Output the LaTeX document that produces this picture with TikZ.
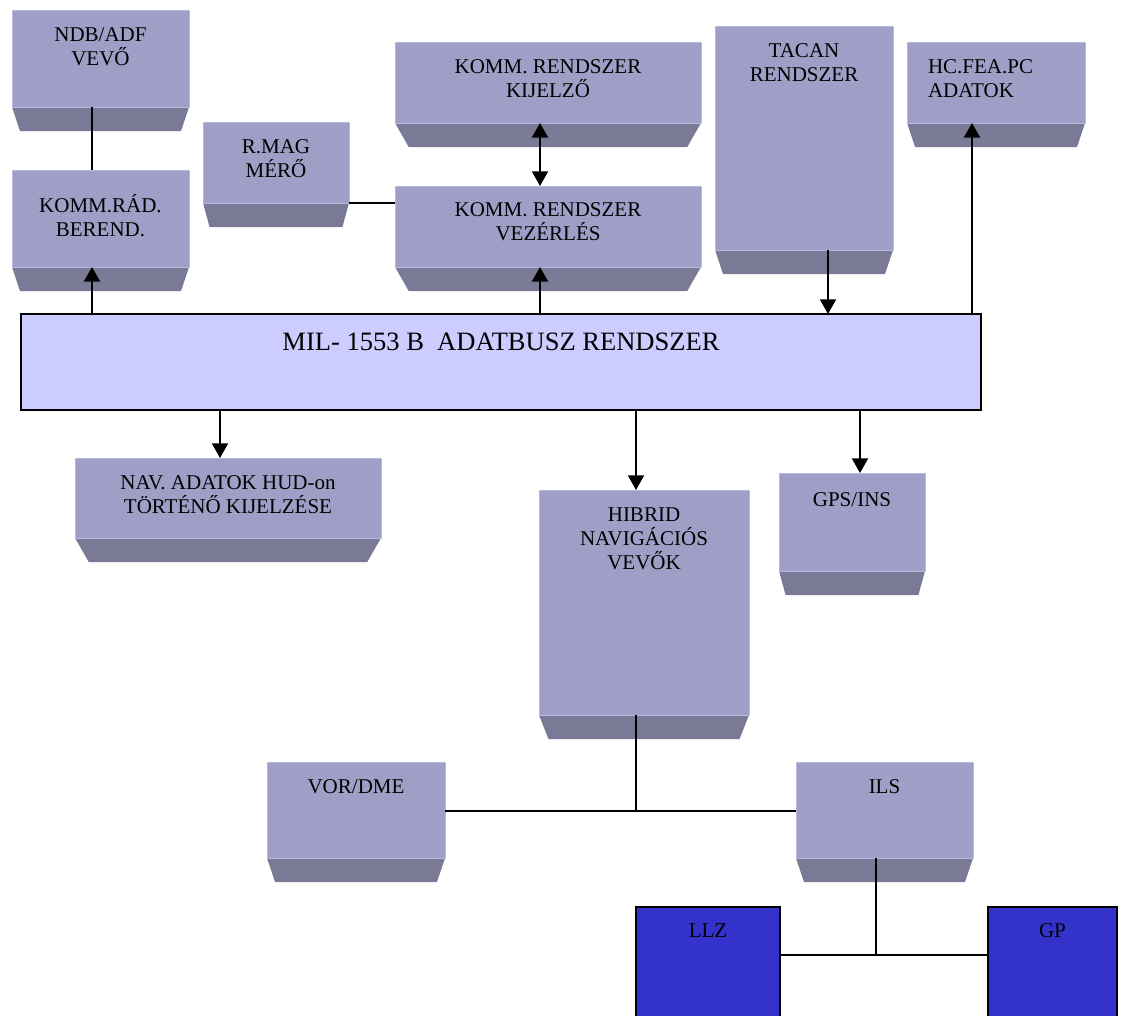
\documentclass[tikz,border=0pt]{standalone}
\usepackage{fontspec}
\setmainfont{Liberation Serif}
\usetikzlibrary{arrows.meta}
\definecolor{facec}{RGB}{158,158,198}
\definecolor{faceedge}{RGB}{184,184,226}
\definecolor{bevelc}{RGB}{122,122,150}
\definecolor{busc}{RGB}{204,204,255}
\definecolor{llzc}{RGB}{51,51,204}
\tikzset{
  face/.style={fill=facec, draw=faceedge, line width=0.75pt, inner sep=0pt, outer sep=0pt,
    anchor=north west, font=\fontsize{15.75pt}{18pt}\selectfont},
  busbox/.style={fill=busc, draw=black, line width=1.5pt, inner sep=0pt, outer sep=0pt,
    anchor=north west, font=\fontsize{19.9pt}{24pt}\selectfont},
  bluebox/.style={fill=llzc, draw=black, line width=1.5pt, inner sep=0pt, outer sep=0pt,
    anchor=north west, font=\fontsize{15.75pt}{18pt}\selectfont},
  conn/.style={line width=1.5pt, draw=black},
  arr/.style={conn, -{Triangle[length=11pt,width=12pt]}},
  darr/.style={conn, {Triangle[length=11pt,width=12pt]}-{Triangle[length=11pt,width=12pt]}}
}
% #1 baseline offset, #2 name, #3 x1, #4 y1, #5 x2, #6 y2, #7 text
\newcommand\pbox[7][31]{%
  \pgfmathsetlengthmacro\bw{(#5-#3)*0.75pt}%
  \pgfmathsetlengthmacro\bh{(#6-#4)*0.75pt}%
  \pgfmathsetlengthmacro\ba{#1*0.75pt}%
  \pgfmathsetmacro\bin{0.045*(#5-#3)}%
  \fill[bevelc] (#3,#6) -- (#5,#6) -- (#5-\bin,#6+24) -- (#3+\bin,#6+24) -- cycle;
  \node[face, minimum width=\bw, minimum height=\bh] (#2) at (#3,#4)
    {\parbox[t][\bh][t]{\bw}{\centering\rule{0pt}{\ba}#7}};
}
\begin{document}
\begin{tikzpicture}[x=0.75pt,y=-0.75pt]
\useasboundingbox (0,0) rectangle (1122,1015);
\clip (0,0) rectangle (1122,1015);

\pbox{ndb}{12}{10}{189}{107}{NDB/ADF\\VEVŐ}
\pbox[42]{krad}{12}{170}{189}{267}{KOMM.RÁD.\\BEREND.}
\pbox{rmag}{203}{122}{349}{203}{R.MAG\\MÉRŐ}
\pbox{kij}{395}{42}{701}{123}{KOMM. RENDSZER\\KIJELZŐ}
\pbox[30]{vez}{395}{186}{701}{267}{KOMM. RENDSZER\\VEZÉRLÉS}
\pbox{tacan}{715}{26}{893}{250}{TACAN\\RENDSZER}
\pbox{hc}{907}{42}{1085}{123}{\raggedright\leftskip=15.75pt HC.FEA.PC\\ADATOK}
\pbox{nav}{75}{458}{381}{538}{NAV. ADATOK HUD-on\\TÖRTÉNŐ KIJELZÉSE}
\pbox{hib}{539}{490}{749}{715}{HIBRID\\NAVIGÁCIÓS\\VEVŐK}
\pbox[33]{gps}{779}{473}{925}{571}{GPS/INS}
\pbox{vor}{267}{762}{445}{858}{VOR/DME}
\pbox{ils}{796}{762}{973}{858}{ILS}

\pgfmathsetlengthmacro\bw{(981-21)*0.75pt}
\pgfmathsetlengthmacro\bh{(410-314)*0.75pt}
\node[busbox, minimum width=\bw, minimum height=\bh] (bus) at (21,314)
  {\parbox[t][\bh][t]{\bw}{\centering\rule{0pt}{27pt}MIL- 1553 B\ \ ADATBUSZ RENDSZER}};

\pgfmathsetlengthmacro\bw{(780-636)*0.75pt}
\pgfmathsetlengthmacro\bh{(1018-907)*0.75pt}
\node[bluebox, minimum width=\bw, minimum height=\bh] (llz) at (636,907)
  {\parbox[t][\bh][t]{\bw}{\centering\rule{0pt}{22.5pt}LLZ}};
\pgfmathsetlengthmacro\bw{(1117-988)*0.75pt}
\node[bluebox, minimum width=\bw, minimum height=\bh] (gp) at (988,907)
  {\parbox[t][\bh][t]{\bw}{\centering\rule{0pt}{22.5pt}GP}};

\coordinate (xa) at (92,0);
\coordinate (xb) at (540,0);
\coordinate (xc) at (828,0);
\coordinate (xd) at (972,0);
\coordinate (xe) at (220,0);
\coordinate (xf) at (636,0);
\coordinate (xg) at (860,0);
\coordinate (xh) at (876,0);
\coordinate (ya) at (0,811);
\coordinate (yb) at (0,955);

\draw[conn] (ndb.south -| xa) -- (krad.north -| xa);
\draw[arr] (bus.north -| xa) -- (krad.south -| xa);
\draw[conn] (rmag.south east) -- (vez.west |- rmag.south east);
\draw[darr] (kij.south -| xb) -- (vez.north -| xb);
\draw[arr] (bus.north -| xb) -- (vez.south -| xb);
\draw[arr] (tacan.south -| xc) -- (bus.north -| xc);
\draw[arr] (bus.north -| xd) -- (hc.south -| xd);
\draw[arr] (bus.south -| xe) -- (nav.north -| xe);
\draw[arr] (bus.south -| xf) -- (hib.north -| xf);
\draw[arr] (bus.south -| xg) -- (gps.north -| xg);
\draw[conn] (hib.south -| xf) -- (xf |- ya);
\draw[conn] (vor.east |- ya) -- (ils.west |- ya);
\draw[conn] (ils.south -| xh) -- (xh |- yb);
\draw[conn] (llz.east |- yb) -- (gp.west |- yb);
\end{tikzpicture}
\end{document}
